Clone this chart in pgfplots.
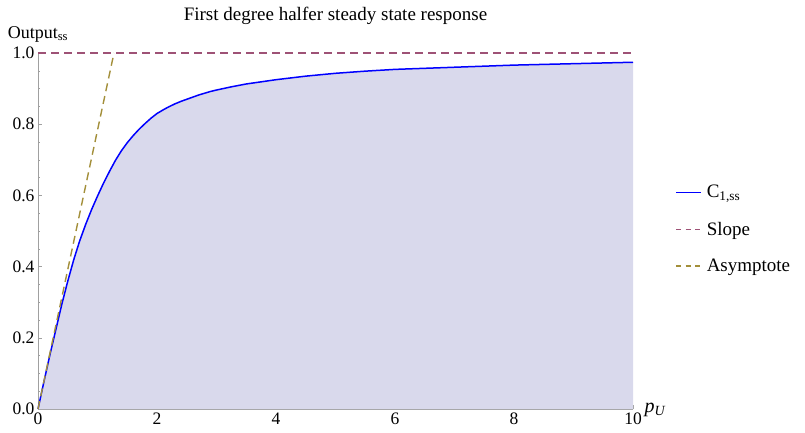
\documentclass[border=0pt]{standalone}
\usepackage{fontspec}
\setmainfont{Liberation Serif}
\usepackage{pgfplots}
\usepackage{pgfplotstable}
\pgfplotsset{compat=1.18}

\definecolor{cfill}{RGB}{217,217,236}
\definecolor{cslope}{RGB}{158,82,118}
\definecolor{casym}{RGB}{163,143,58}
\definecolor{caxis}{RGB}{160,160,160}

% steady state output C_{1,ss} against p_U
\pgfplotstableread{
x y
0.0 0.000
0.1 0.077
0.2 0.152
0.3 0.223
0.4 0.294
0.5 0.359
0.6 0.419
0.7 0.472
0.8 0.518
0.9 0.560
1.0 0.598
1.1 0.634
1.2 0.667
1.3 0.698
1.4 0.725
1.5 0.748
1.6 0.768
1.7 0.786
1.8 0.802
1.9 0.817
2.0 0.830
2.1 0.840
2.2 0.849
2.3 0.857
2.4 0.864
2.5 0.870
2.6 0.876
2.7 0.882
2.8 0.887
2.9 0.892
3.0 0.896
3.25 0.905
3.5 0.913
3.75 0.919
4.0 0.925
4.25 0.930
4.5 0.935
4.75 0.939
5.0 0.943
5.5 0.949
6.0 0.954
6.5 0.957
7.0 0.960
7.5 0.963
8.0 0.966
8.5 0.968
9.0 0.970
9.5 0.972
10.0 0.974
}\css

\begin{document}
\begin{tikzpicture}
\useasboundingbox (-38pt,-23pt) rectangle (767pt,409pt);
\begin{axis}[
  scale only axis,
  width=595pt, height=356pt,
  xmin=0, xmax=10, ymin=0, ymax=1,
  clip=false,
  axis x line*=bottom, axis y line*=left,
  axis line style={caxis, -},
  tick align=inside,
  major tick length=4pt, minor tick length=2.5pt,
  every tick/.style={caxis},
  xtick={0,2,4,6,8,10},
  ytick={0,0.2,0.4,0.6,0.8,1},
  minor x tick num=3,
  minor y tick num=3,
  /pgf/number format/assume math mode=true,
  ticklabel style={font=\fontsize{17.5}{20}\selectfont},
  yticklabel style={/pgf/number format/.cd, fixed, fixed zerofill, precision=1},
  title={First degree halfer steady state response},
  title style={font=\fontsize{19}{22}\selectfont, at={(0.5,1)}, anchor=base, yshift=26pt},
  legend style={draw=none, fill=none, at={(1.066,0.505)}, anchor=west,
    font=\fontsize{19}{22}\selectfont, row sep=18.5pt,
    /tikz/every odd column/.append style={column sep=3pt}},
  legend cell align=left,
]
% shaded region under the steady state curve
\addplot[fill=cfill, draw=none, forget plot] table {\css} \closedcycle;
% steady state curve
\addplot[blue, line width=1.5pt, line join=round,
  legend image code/.code={\draw[blue, line width=1.3pt] (0pt,0pt) -- (25pt,0pt);}] table {\css};
\addlegendentry{C\textsubscript{1,ss}}
% horizontal limit
\addplot[cslope, line width=1.1pt, dash pattern=on 8pt off 5pt,
  legend image code/.code={\draw[cslope, line width=1.1pt, dash pattern=on 5pt off 4.5pt] (0pt,0pt) -- (25pt,0pt);}]
  coordinates {(0,1) (10,1)};
\addlegendentry{Slope}
% initial tangent
\addplot[casym, line width=1.4pt, dash pattern=on 8pt off 5pt,
  legend image code/.code={\draw[casym, line width=1.3pt, dash pattern=on 5pt off 4.5pt] (0pt,0pt) -- (25pt,0pt);}]
  coordinates {(0,0) (1.277,1)};
\addlegendentry{Asymptote}
\node[anchor=base, font=\fontsize{18}{21}\selectfont] at (rel axis cs:0,1) [yshift=15pt] {Output\textsubscript{ss}};
\node[anchor=base west, font=\fontsize{20}{23}\selectfont] at (rel axis cs:1,0) [xshift=8pt, yshift=-3pt] {\textit{p}\textsubscript{\textit{U}}};
\end{axis}
\end{tikzpicture}
\end{document}
